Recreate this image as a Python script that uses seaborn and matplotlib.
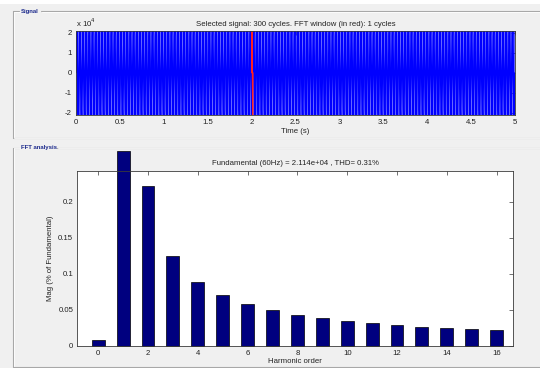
import numpy as np
import pandas as pd
import matplotlib
matplotlib.use("Agg")
import matplotlib.pyplot as plt
import seaborn as sns
from matplotlib.lines import Line2D
from matplotlib.patches import Rectangle

# ---------------- data ----------------
# FFT analysis: harmonic order and magnitude (% of fundamental)
harmonic_order = [0, 1, 2, 3, 4, 5, 6, 7, 8, 9, 10, 11, 12, 13, 14, 15, 16]
magnitude_pct = [0.0083, 0.271, 0.2218, 0.125, 0.0889, 0.0699, 0.0579, 0.049,
                 0.0426, 0.038, 0.0343, 0.031, 0.0287, 0.0264, 0.0245, 0.0231, 0.0213]
fft_xticks = [0, 2, 4, 6, 8, 10, 12, 14, 16]
fft_yticks = [0, 0.05, 0.1, 0.15, 0.2]
fft_yticklabels = ["0", "0.05", "0.1", "0.15", "0.2"]

# Signal: 60 Hz waveform, 300 cycles, peak 2.114e4; one cycle's shape (normalised)
fundamental_hz = 60
n_cycles = 300
fundamental_peak = 2.114e4
cycle_shape = [0.0, 0.5, 0.866, 1.0, 0.866, 0.5, 0.0, -0.5, -0.866, -1.0, -0.866, -0.5]
fft_window_start_s = 2.0
fft_window_cycles = 1
sig_xticks = [0, 0.5, 1, 1.5, 2, 2.5, 3, 3.5, 4, 4.5, 5]
sig_xticklabels = ["0", "0.5", "1", "1.5", "2", "2.5", "3", "3.5", "4", "4.5", "5"]
sig_yticks = [-2e4, -1e4, 0, 1e4, 2e4]
sig_yticklabels = ["-2", "-1", "0", "1", "2"]

title_top = "Selected signal: 300 cycles. FFT window (in red): 1 cycles"
title_bottom = "Fundamental (60Hz) = 2.114e+04 , THD= 0.31%"

# ---------------- build signal table ----------------
spc = len(cycle_shape)
vals = np.tile(np.array(cycle_shape) * fundamental_peak, n_cycles)
vals = np.append(vals, 0.0)
t = np.arange(len(vals)) / (fundamental_hz * spc)
sig = pd.DataFrame({"t": t, "v": vals})
i0 = int(round(fft_window_start_s * fundamental_hz * spc))
win = sig.iloc[i0:i0 + fft_window_cycles * spc + 1]
fft_df = pd.DataFrame({"h": harmonic_order, "m": magnitude_pct})

# ---------------- figure ----------------
sns.set_theme(style="white")
plt.rcParams["font.family"] = ["Liberation Sans", "DejaVu Sans"]
BG = "#f0f0f0"
W, H = 540, 368
fig = plt.figure(figsize=(W / 100, H / 100), dpi=100, facecolor=BG)

def fx(px):
    return px / W

def fy(py):
    return 1 - py / H

# top white strip
fig.add_artist(Rectangle((0, fy(4)), 1, 4 / H, transform=fig.transFigure,
                         facecolor="white", edgecolor="none", zorder=0))

# panels
def panel(top, bottom, label, label_w):
    lc, hc = "#a8a8a8", "#ffffff"
    x0 = 13
    segs = [((x0, top), (19, top)), ((19 + label_w, top), (W, top)),
            ((x0, top), (x0, bottom)), ((x0, bottom), (W, bottom))]
    for (a, b) in segs:
        fig.add_artist(Line2D([fx(a[0]), fx(b[0])], [fy(a[1]), fy(b[1])],
                              transform=fig.transFigure, color=lc, lw=0.8))
        fig.add_artist(Line2D([fx(a[0] + 1), fx(b[0] + 1)], [fy(a[1] + 1), fy(b[1] + 1)],
                              transform=fig.transFigure, color=hc, lw=0.6))
    fig.text(fx(21), fy(top), label, color="#1c2a8c", fontsize=4.3,
             fontweight="bold", va="center", ha="left")

panel(11, 137.5, "Signal", 22)
panel(147.5, 366.5, "FFT analysis", 38)

FS = 5.6
spine_c = "#3a3a3a"

def style_axes(ax):
    for s in ax.spines.values():
        s.set_color(spine_c)
        s.set_linewidth(0.6)
    ax.tick_params(direction="in", length=3, width=0.5, color=spine_c,
                   labelsize=FS, pad=3, top=True, right=True,
                   labeltop=False, labelright=False, labelcolor="#222222")

# ---------- Signal axes ----------
ax1 = fig.add_axes([fx(76), fy(115), fx(515) - fx(76), fy(30.5) - fy(115)])
ax1.set_facecolor("white")
sns.lineplot(data=sig, x="t", y="v", ax=ax1, color="#0000ff", lw=0.55,
             estimator=None, sort=False)
sns.lineplot(data=win, x="t", y="v", ax=ax1, color="#ff2020", lw=0.8,
             estimator=None, sort=False)
ax1.set_xlim(0, 5)
ax1.set_ylim(-fundamental_peak, fundamental_peak)
ax1.set_xticks(sig_xticks, sig_xticklabels)
ax1.set_yticks(sig_yticks, sig_yticklabels)
ax1.set_xlabel("Time (s)", fontsize=FS, labelpad=1, color="#222222")
ax1.set_ylabel("")
ax1.set_title(title_top, fontsize=FS, pad=3, color="#222222")
style_axes(ax1)
ax1.text(0, 1.015, "x 10$^4$", transform=ax1.transAxes, fontsize=FS,
         ha="left", va="bottom", color="#222222")

# ---------- FFT axes ----------
ax2 = fig.add_axes([fx(77.3), fy(345.7), fx(513.3) - fx(77.3), fy(170.7) - fy(345.7)])
ax2.set_facecolor("white")
sns.barplot(data=fft_df, x="h", y="m", ax=ax2, native_scale=True, width=0.52,
            color="#00007f", edgecolor="black", linewidth=0.5, saturation=1)
for p in ax2.patches:
    p.set_clip_on(False)
ax2.set_xlim(-0.84, 16.67)
ax2.set_ylim(0, 0.2435)
ax2.set_xticks(fft_xticks, [str(v) for v in fft_xticks])
ax2.set_yticks(fft_yticks, fft_yticklabels)
ax2.set_xlabel("Harmonic order", fontsize=FS, labelpad=1, color="#222222")
ax2.set_ylabel("Mag (% of Fundamental)", fontsize=FS, labelpad=3, color="#222222")
ax2.set_title(title_bottom, fontsize=FS, pad=4, color="#222222")
style_axes(ax2)

fig.savefig("out.png", dpi=100, facecolor=BG)
